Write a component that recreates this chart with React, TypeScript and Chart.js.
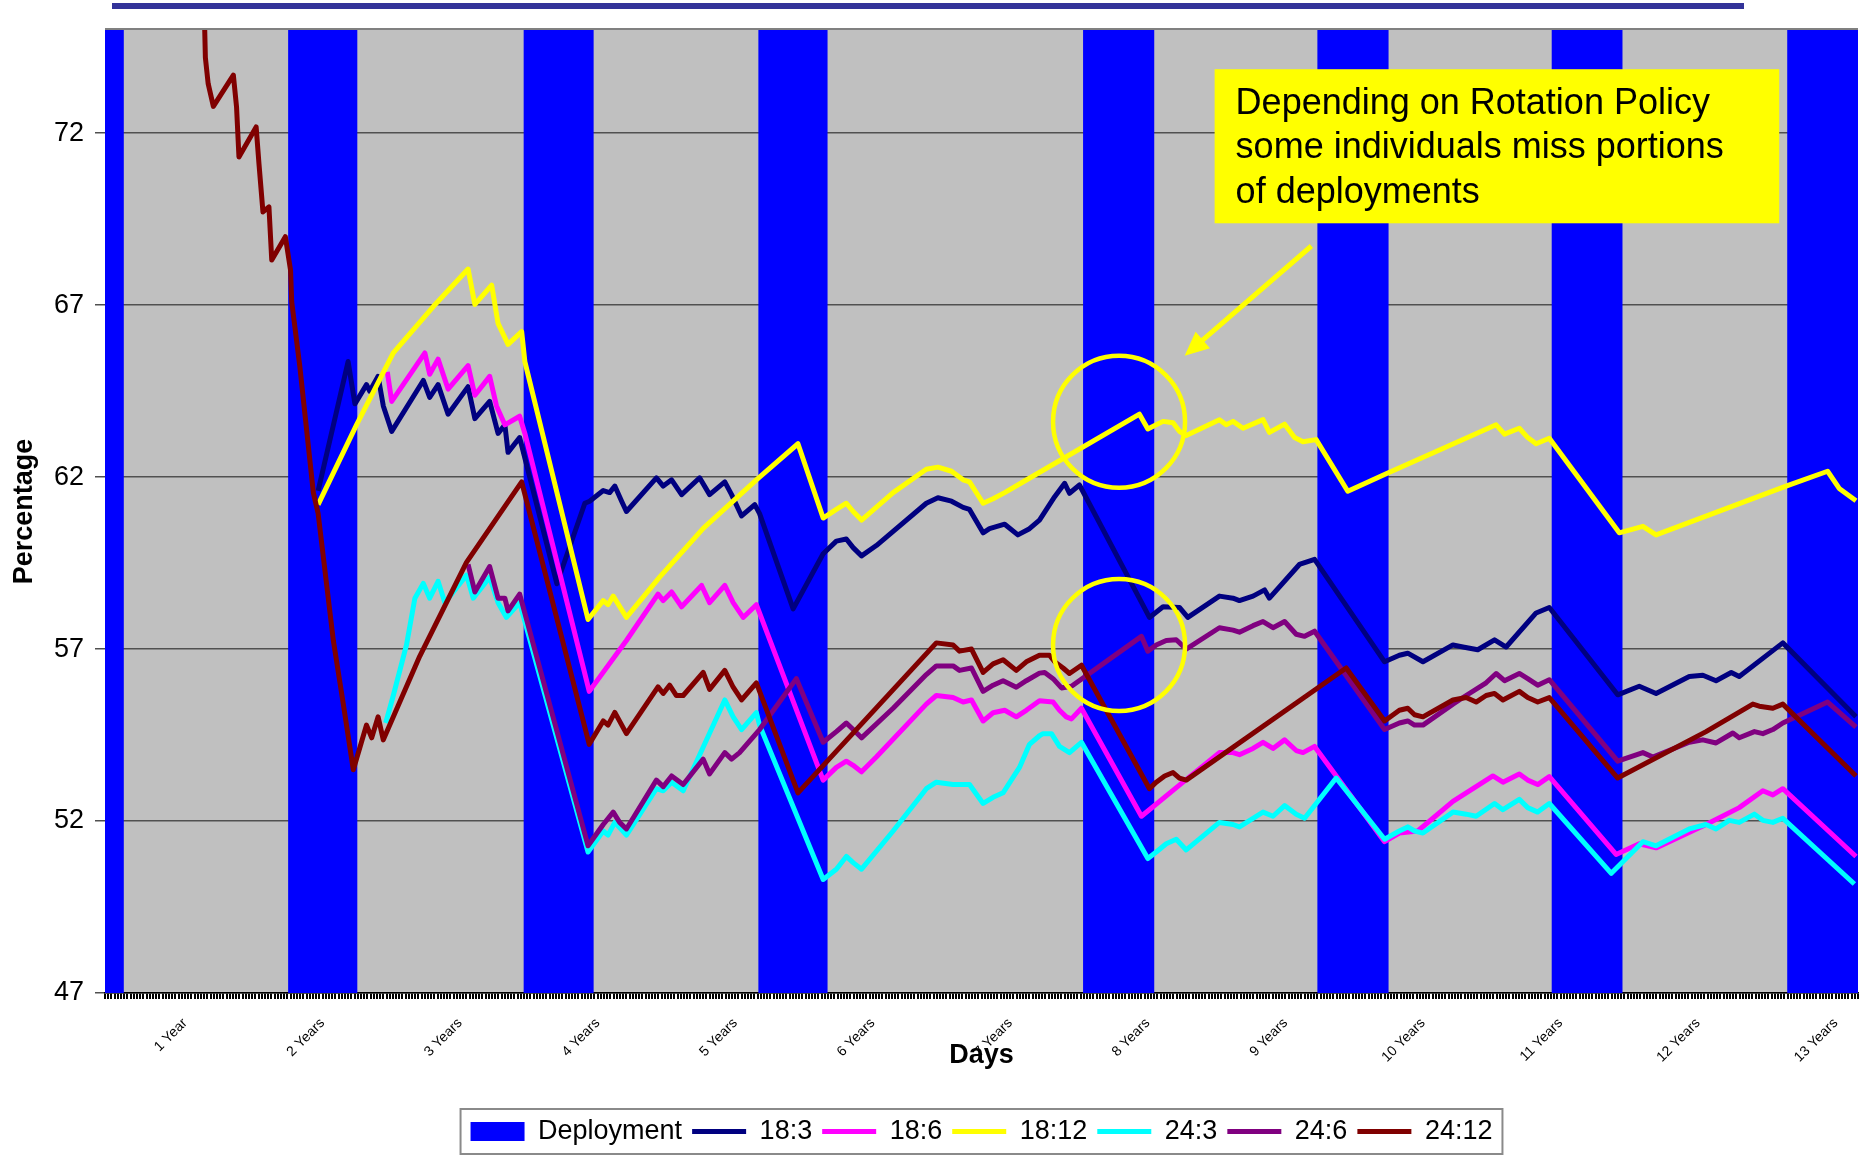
import React, { useEffect, useRef } from 'react';
import { Chart, registerables } from 'chart.js';

Chart.register(...registerables);

const FONT = '"Liberation Sans", Arial, Helvetica, sans-serif';

// ---- axis definitions (x in days) ----
const X_MAX = 4384;
const Y_MIN = 47;
const Y_MAX = 75;
const Y_TICKS = [47, 52, 57, 62, 67, 72];
const X_LABEL_DAYS = [200, 544, 888, 1232, 1576, 1920, 2264, 2608, 2952, 3296, 3640, 3984, 4328];
const X_LABELS = ['1 Year', '2 Years', '3 Years', '4 Years', '5 Years', '6 Years', '7 Years', '8 Years', '9 Years', '10 Years', '11 Years', '12 Years', '13 Years'];

// ---- deployment periods [startDay, endDay] ----
const DEPLOYMENTS: number[][] = [[0, 47], [458, 631], [1047, 1222], [1634, 1807], [2446, 2624], [3032, 3210], [3618, 3795], [4207, 4384]];

// ---- series [day, percentage] ----
const S18_3: number[][] = [[533,61.6],[608,65.36],[625,64.13],[654,64.69],[662,64.5],[683,64.93],[696,64.07],[717,63.33],[796,64.81],[812,64.32],[833,64.69],[858,63.83],[908,64.63],[925,63.7],[962,64.2],[983,63.27],[1000,63.52],[1008,62.72],[1037,63.15],[1130,58.9],[1200,61.24],[1212,61.3],[1246,61.61],[1262,61.55],[1275,61.74],[1292,61.3],[1304,61.0],[1379,61.98],[1396,61.74],[1417,61.92],[1442,61.49],[1487,61.98],[1512,61.49],[1550,61.86],[1567,61.49],[1592,60.87],[1625,61.2],[1637,60.94],[1721,58.17],[1796,59.77],[1829,60.14],[1854,60.2],[1871,59.95],[1892,59.71],[1929,60.01],[2054,61.24],[2083,61.4],[2117,61.3],[2146,61.12],[2162,61.06],[2196,60.38],[2212,60.5],[2250,60.63],[2283,60.32],[2312,60.5],[2337,60.75],[2375,61.43],[2400,61.82],[2412,61.53],[2437,61.77],[2612,57.92],[2646,58.23],[2687,58.21],[2708,57.92],[2787,58.54],[2821,58.48],[2837,58.41],[2871,58.54],[2900,58.72],[2912,58.48],[2987,59.46],[3025,59.61],[3200,56.63],[3237,56.82],[3258,56.88],[3296,56.63],[3371,57.12],[3396,57.06],[3433,56.98],[3475,57.27],[3504,57.06],[3579,58.05],[3612,58.21],[3783,55.67],[3837,55.92],[3879,55.71],[3962,56.2],[3996,56.24],[4029,56.08],[4067,56.32],[4087,56.2],[4196,57.18],[4379,55.03]];

const S18_6: number[][] = [[706,65.06],[717,64.2],[800,65.61],[812,64.99],[833,65.43],[858,64.56],[908,65.24],[925,64.38],[962,64.93],[979,64.07],[1000,63.52],[1037,63.77],[1050,63.27],[1211,55.77],[1304,57.25],[1383,58.6],[1396,58.41],[1417,58.66],[1442,58.23],[1492,58.85],[1512,58.35],[1550,58.85],[1571,58.35],[1596,57.92],[1629,58.29],[1796,53.19],[1829,53.56],[1854,53.74],[1871,53.62],[1892,53.43],[1929,53.86],[2054,55.4],[2079,55.65],[2121,55.59],[2146,55.46],[2167,55.52],[2196,54.91],[2221,55.15],[2250,55.22],[2279,55.03],[2304,55.22],[2337,55.5],[2371,55.46],[2387,55.22],[2404,55.03],[2417,54.97],[2442,55.28],[2592,52.14],[2696,53.13],[2787,53.99],[2821,53.99],[2837,53.93],[2871,54.11],[2896,54.29],[2921,54.11],[2950,54.36],[2979,54.05],[2996,53.99],[3025,54.17],[3200,51.4],[3237,51.65],[3283,51.71],[3371,52.57],[3471,53.31],[3496,53.13],[3537,53.37],[3558,53.19],[3583,53.06],[3612,53.29],[3779,51.03],[3837,51.34],[3879,51.22],[4004,51.9],[4087,52.39],[4146,52.88],[4171,52.76],[4196,52.94],[4379,50.97]];

const S18_12: number[][] = [[533,61.2],[629,63.52],[721,65.61],[821,66.96],[908,68.05],[925,67.02],[967,67.58],[983,66.47],[1008,65.86],[1042,66.23],[1050,65.36],[1208,57.86],[1246,58.41],[1258,58.29],[1271,58.54],[1304,57.92],[1387,59.09],[1496,60.51],[1629,61.92],[1733,62.97],[1796,60.81],[1829,61.06],[1854,61.24],[1871,61.0],[1892,60.75],[1971,61.55],[2054,62.23],[2083,62.29],[2117,62.17],[2146,61.92],[2162,61.86],[2196,61.24],[2221,61.37],[2250,61.55],[2287,61.8],[2587,63.83],[2608,63.4],[2629,63.52],[2646,63.62],[2671,63.58],[2687,63.33],[2704,63.21],[2787,63.67],[2804,63.52],[2821,63.62],[2846,63.42],[2896,63.67],[2912,63.3],[2950,63.54],[2975,63.15],[2996,63.03],[3029,63.09],[3108,61.59],[3204,62.1],[3479,63.52],[3500,63.25],[3537,63.42],[3558,63.15],[3579,62.97],[3612,63.13],[3787,60.38],[3846,60.57],[3879,60.32],[4204,61.74],[4308,62.17],[4337,61.67],[4379,61.31]];

const S24_3: number[][] = [[702,54.85],[721,55.65],[754,57.12],[775,58.48],[796,58.91],[812,58.48],[833,58.97],[850,58.35],[904,59.15],[921,58.48],[962,59.09],[983,58.35],[1004,57.92],[1037,58.35],[1208,51.1],[1246,51.71],[1258,51.59],[1275,51.96],[1304,51.59],[1379,52.94],[1396,52.88],[1417,53.13],[1446,52.88],[1550,55.52],[1571,55.03],[1592,54.66],[1629,55.15],[1637,54.79],[1796,50.3],[1829,50.6],[1854,50.97],[1871,50.79],[1892,50.6],[1971,51.71],[2054,52.94],[2079,53.13],[2121,53.06],[2162,53.06],[2196,52.51],[2221,52.69],[2246,52.82],[2287,53.56],[2312,54.23],[2337,54.48],[2346,54.54],[2367,54.54],[2387,54.17],[2412,53.99],[2442,54.29],[2608,50.91],[2629,51.1],[2654,51.34],[2679,51.47],[2704,51.16],[2787,51.96],[2821,51.9],[2837,51.83],[2871,52.08],[2896,52.26],[2921,52.14],[2950,52.45],[2979,52.2],[3000,52.08],[3079,53.25],[3200,51.47],[3237,51.71],[3258,51.83],[3275,51.71],[3296,51.65],[3371,52.26],[3404,52.2],[3429,52.14],[3475,52.51],[3496,52.33],[3537,52.63],[3558,52.39],[3583,52.26],[3612,52.51],[3767,50.48],[3846,51.4],[3879,51.28],[3962,51.77],[4004,51.9],[4029,51.77],[4062,52.02],[4087,51.96],[4125,52.2],[4146,52.02],[4171,51.96],[4196,52.08],[4375,50.17]];

const S24_6: number[][] = [[908,59.46],[925,58.66],[962,59.4],[983,58.48],[1000,58.48],[1008,58.11],[1037,58.6],[1208,51.28],[1246,51.9],[1271,52.26],[1287,51.96],[1304,51.77],[1379,53.19],[1396,53.0],[1417,53.31],[1446,53.06],[1496,53.8],[1512,53.37],[1550,53.99],[1567,53.8],[1587,53.99],[1637,54.66],[1729,56.14],[1796,54.29],[1829,54.6],[1854,54.85],[1871,54.66],[1892,54.42],[1971,55.28],[2054,56.26],[2079,56.51],[2121,56.51],[2137,56.38],[2167,56.45],[2196,55.77],[2221,55.95],[2246,56.08],[2279,55.89],[2304,56.08],[2337,56.3],[2350,56.32],[2371,56.14],[2392,55.87],[2417,55.92],[2592,57.37],[2608,56.94],[2629,57.12],[2654,57.25],[2679,57.27],[2704,57.0],[2787,57.62],[2821,57.55],[2837,57.49],[2871,57.68],[2896,57.8],[2921,57.62],[2950,57.8],[2979,57.43],[3000,57.37],[3025,57.52],[3200,54.66],[3237,54.85],[3258,54.91],[3275,54.79],[3296,54.79],[3371,55.4],[3404,55.65],[3454,56.02],[3479,56.29],[3500,56.08],[3537,56.29],[3558,56.14],[3583,55.95],[3612,56.11],[3783,53.74],[3846,53.99],[3871,53.86],[3962,54.29],[3996,54.36],[4029,54.27],[4071,54.56],[4087,54.42],[4125,54.6],[4146,54.54],[4171,54.66],[4196,54.85],[4308,55.46],[4379,54.73]];

const S24_12: number[][] = [[249,75.2],[251,74.2],[258,73.44],[271,72.78],[321,73.69],[329,72.76],[335,71.31],[378,72.18],[385,71.12],[395,69.71],[410,69.86],[417,68.31],[451,68.99],[464,68.02],[467,67.09],[487,65.24],[521,61.55],[533,60.94],[571,57.25],[596,55.4],[621,53.49],[654,54.79],[667,54.42],[683,55.03],[696,54.36],[787,56.79],[904,59.52],[1042,61.86],[1211,54.23],[1246,54.91],[1258,54.79],[1275,55.16],[1304,54.54],[1383,55.9],[1396,55.71],[1412,55.95],[1429,55.65],[1446,55.65],[1496,56.32],[1512,55.83],[1550,56.38],[1571,55.89],[1592,55.52],[1629,56.02],[1733,52.82],[2079,57.18],[2121,57.12],[2137,56.94],[2167,57.0],[2196,56.32],[2221,56.57],[2246,56.69],[2279,56.38],[2304,56.63],[2337,56.82],[2362,56.82],[2375,56.63],[2396,56.45],[2412,56.29],[2442,56.53],[2612,52.94],[2629,53.13],[2650,53.31],[2671,53.41],[2687,53.25],[2704,53.19],[3104,56.45],[3200,54.91],[3237,55.22],[3258,55.28],[3275,55.09],[3296,55.03],[3371,55.52],[3404,55.59],[3429,55.46],[3454,55.65],[3475,55.71],[3496,55.52],[3537,55.77],[3558,55.59],[3583,55.46],[3612,55.59],[3783,53.25],[4004,54.6],[4121,55.4],[4137,55.34],[4171,55.28],[4196,55.4],[4379,53.31]];

// ---- annotation (in data units) ----
const NOTE_LINES = ['Depending on Rotation Policy', 'some individuals miss portions', 'of deployments'];
const NOTE_BOX = { x0: 2775, x1: 4187, y0: 73.86, y1: 69.38 };
const NOTE_ARROW = { from: [3017, 68.72], to: [2700, 65.53] };
const NOTE_CIRCLES = [[2536, 63.61], [2536, 57.12]];

const toXY = (arr: number[][]) => arr.map(([x, y]) => ({ x, y }));

function deploymentSteps() {
  const pts: { x: number; y: number }[] = [];
  DEPLOYMENTS.forEach(([s, e]) => {
    pts.push({ x: s, y: Y_MAX });
    pts.push({ x: e, y: e >= X_MAX ? Y_MAX : Y_MIN });
  });
  return pts;
}

function lineDs(label: string, data: number[][], color: string, order: number) {
  return {
    type: 'line' as const,
    label,
    data: toXY(data),
    borderColor: color,
    backgroundColor: color,
    borderWidth: 5,
    borderJoinStyle: 'round' as const,
    pointRadius: 0,
    pointHoverRadius: 0,
    pointStyle: 'line',
    pointBorderColor: color,
    pointBackgroundColor: color,
    pointBorderWidth: 5,
    tension: 0,
    fill: false,
    order,
    clip: 0,
  };
}

const decorPlugin = {
  id: 'decor',
  beforeDraw(chart: any) {
    const { ctx, chartArea: a } = chart;
    ctx.save();
    ctx.fillStyle = '#C0C0C0';
    ctx.fillRect(a.left, a.top, a.right - a.left, a.bottom - a.top);
    ctx.restore();
  },
  afterDatasetsDraw(chart: any) {
    const { ctx, scales } = chart;
    const xs = scales.x;
    const ys = scales.y;
    ctx.save();
    // circles
    ctx.strokeStyle = '#FFFF00';
    ctx.lineWidth = 4.5;
    NOTE_CIRCLES.forEach(([d, v]) => {
      ctx.beginPath();
      ctx.ellipse(xs.getPixelForValue(d), ys.getPixelForValue(v), 66, 66, 0, 0, Math.PI * 2);
      ctx.stroke();
    });
    // arrow
    const x1 = xs.getPixelForValue(NOTE_ARROW.from[0]);
    const y1 = ys.getPixelForValue(NOTE_ARROW.from[1]);
    const x2 = xs.getPixelForValue(NOTE_ARROW.to[0]);
    const y2 = ys.getPixelForValue(NOTE_ARROW.to[1]);
    const len = Math.hypot(x2 - x1, y2 - y1);
    const ux = (x2 - x1) / len;
    const uy = (y2 - y1) / len;
    const hl = 24;
    const hw = 11;
    ctx.lineWidth = 5;
    ctx.lineCap = 'butt';
    ctx.beginPath();
    ctx.moveTo(x1, y1);
    ctx.lineTo(x2 - ux * hl * 0.8, y2 - uy * hl * 0.8);
    ctx.stroke();
    ctx.fillStyle = '#FFFF00';
    ctx.beginPath();
    ctx.moveTo(x2, y2);
    ctx.lineTo(x2 - ux * hl - uy * hw, y2 - uy * hl + ux * hw);
    ctx.lineTo(x2 - ux * hl + uy * hw, y2 - uy * hl - ux * hw);
    ctx.closePath();
    ctx.fill();
    // note box
    const bx0 = xs.getPixelForValue(NOTE_BOX.x0);
    const bx1 = xs.getPixelForValue(NOTE_BOX.x1);
    const by0 = ys.getPixelForValue(NOTE_BOX.y0);
    const by1 = ys.getPixelForValue(NOTE_BOX.y1);
    ctx.fillStyle = '#FFFF00';
    ctx.fillRect(bx0, by0, bx1 - bx0, by1 - by0);
    ctx.fillStyle = '#000';
    ctx.font = '36px ' + FONT;
    ctx.textBaseline = 'middle';
    ctx.textAlign = 'left';
    NOTE_LINES.forEach((t, i) => ctx.fillText(t, bx0 + 21, by0 + 34.5 + i * 44.6));
    ctx.restore();
  },
  afterDraw(chart: any) {
    const { ctx, chartArea: a, legend } = chart;
    ctx.save();
    ctx.strokeStyle = '#808080';
    ctx.lineWidth = 2;
    ctx.beginPath();
    ctx.moveTo(a.left, a.top - 1);
    ctx.lineTo(a.right, a.top - 1);
    ctx.stroke();
    if (legend && legend.legendHitBoxes && legend.legendHitBoxes.length) {
      const hb = legend.legendHitBoxes;
      const l = Math.min(...hb.map((h: any) => h.left)) - 10;
      const r = Math.max(...hb.map((h: any) => h.left + h.width)) + 10;
      ctx.strokeStyle = '#8a8a8a';
      ctx.lineWidth = 2;
      ctx.strokeRect(l, legend.top + 1, r - l, legend.bottom - legend.top - 2);
    }
    ctx.restore();
  },
};

export default function App() {
  const ref = useRef<HTMLCanvasElement>(null);
  useEffect(() => {
    if (!ref.current) return;
    const chart = new Chart(ref.current, {
      type: 'line',
      data: {
        datasets: [
          {
            type: 'line',
            label: 'Deployment',
            data: deploymentSteps(),
            stepped: 'before',
            fill: 'start',
            backgroundColor: '#0000FF',
            borderColor: 'rgba(0,0,0,0)',
            borderWidth: 0,
            pointRadius: 0,
            pointHoverRadius: 0,
            pointStyle: 'rect',
            pointBackgroundColor: '#0000FF',
            pointBorderColor: '#0000FF',
            pointBorderWidth: 0,
            order: 10,
            clip: 0,
          } as any,
          lineDs('18:3', S18_3, '#000080', 6),
          lineDs('18:6', S18_6, '#FF00FF', 5),
          lineDs('18:12', S18_12, '#FFFF00', 4),
          lineDs('24:3', S24_3, '#00FFFF', 3),
          lineDs('24:6', S24_6, '#800080', 2),
          lineDs('24:12', S24_12, '#800000', 1),
        ] as any,
      },
      options: {
        responsive: false,
        animation: false,
        devicePixelRatio: 1,
        events: [],
        layout: { padding: { left: 0, right: 6, top: 30, bottom: 0 } },
        font: { family: FONT },
        plugins: {
          tooltip: { enabled: false },
          legend: {
            position: 'bottom',
            fullSize: false,
            labels: {
              usePointStyle: true,
              pointStyleWidth: 54,
              boxHeight: 19,
              padding: 10,
              color: '#000',
              font: { family: FONT, size: 27 },
              sort: (a: any, b: any) => a.datasetIndex - b.datasetIndex,
            },
          },
        },
        scales: {
          x: {
            type: 'linear',
            position: 'bottom',
            min: 0,
            max: X_MAX,
            afterFit: (s: any) => {
              s.height = 115;
              s.paddingLeft = 0;
              s.paddingRight = 0;
            },
            ticks: {
              stepSize: 8,
              autoSkip: false,
              minRotation: 45,
              maxRotation: 45,
              padding: 16,
              color: '#000',
              font: { family: FONT, size: 14 },
              callback: (v: any) => {
                const i = X_LABEL_DAYS.indexOf(Number(v));
                return i >= 0 ? X_LABELS[i] : '';
              },
            },
            grid: { drawOnChartArea: false, drawTicks: true, tickLength: 6, color: '#000', lineWidth: 2 },
            border: { display: true, color: '#000', width: 1.5 },
            title: {
              display: true,
              text: 'Days',
              color: '#000',
              font: { family: FONT, size: 27, weight: 'bold' },
              padding: { top: 0, bottom: 36 },
            },
          },
          y: {
            type: 'linear',
            min: Y_MIN,
            max: Y_MAX,
            afterBuildTicks: (s: any) => {
              s.ticks = Y_TICKS.map((v) => ({ value: v }));
            },
            afterFit: (s: any) => {
              s.width = 105;
              s.paddingTop = 0;
              s.paddingBottom = 0;
            },
            ticks: { color: '#000', padding: 11, font: { family: FONT, size: 27 } },
            grid: { color: '#505050', lineWidth: 1.5, tickLength: 10, drawTicks: true },
            border: { display: true, color: '#808080', width: 1 },
            title: {
              display: true,
              text: 'Percentage',
              color: '#000',
              font: { family: FONT, size: 27, weight: 'bold' },
              padding: { top: 8, bottom: 0 },
            },
          },
        },
      } as any,
      plugins: [decorPlugin],
    });
    return () => chart.destroy();
  }, []);

  return (
    <div style={{ position: 'absolute', left: 0, top: 0, width: 1864, height: 1155, background: '#fff', overflow: 'hidden' }}>
      <div style={{ position: 'absolute', left: 112, top: 3, width: 1632, height: 6, background: '#333399' }} />
      <canvas ref={ref} width={1864} height={1155} style={{ position: 'absolute', left: 0, top: 0, display: 'block' }} />
    </div>
  );
}
